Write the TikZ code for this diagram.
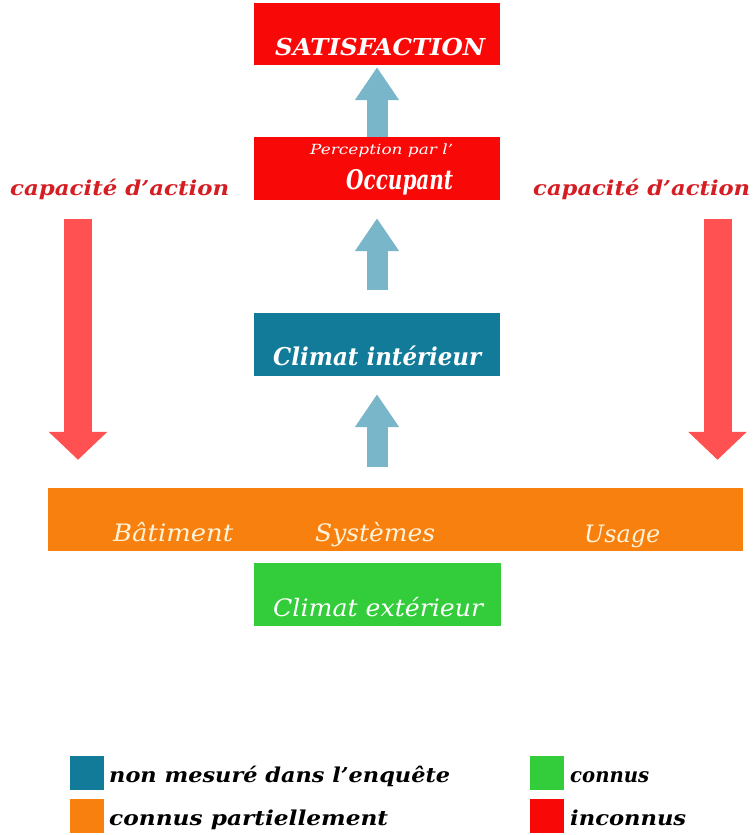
\documentclass[tikz,border=0pt]{standalone}
\usepackage{fontspec}
\setmainfont{DejaVu Serif}
\usetikzlibrary{arrows.meta}
\definecolor{boxred}{HTML}{F90808}
\definecolor{boxteal}{HTML}{117B99}
\definecolor{boxorange}{HTML}{F8800F}
\definecolor{boxgreen}{HTML}{33CC3A}
\definecolor{arrblue}{HTML}{7AB6C9}
\definecolor{arrred}{HTML}{FF5151}
\definecolor{labred}{HTML}{D41E24}
\definecolor{cream}{HTML}{FFF4DA}
\newcommand\fittxt[3]{\fontsize{#1}{#1}\selectfont\resizebox{#2}{\height}{#3}}
\tikzset{
  box/.style={rectangle, inner sep=0pt, minimum width=246pt, minimum height=63pt},
  txt/.style={inner sep=0pt, anchor=base west},
  uparrow/.style={draw=arrblue, line width=21pt, -{Triangle[width=42pt,length=33pt]}},
  downarrow/.style={draw=arrred, line width=28pt, -{Triangle[width=57pt,length=28pt]}},
  legsq/.style={rectangle, inner sep=0pt, minimum width=34pt, minimum height=34pt},
}
\begin{document}
\begin{tikzpicture}[x=1pt,y=-1pt]
\useasboundingbox (0,0) rectangle (754,835);
% boxes
\node[box, fill=boxred, minimum height=62pt] (sat) at (377,34) {};
\node[box, fill=boxred] (occ) at (377,168.5) {};
\node[box, fill=boxteal] (int) at (377,344.5) {};
\node[rectangle, inner sep=0pt, minimum width=695pt, minimum height=63pt, fill=boxorange] (band) at (395.5,519.5) {};
\node[box, fill=boxgreen, minimum width=247pt] (ext) at (377.5,594.5) {};
% blue arrows
\draw[uparrow, shorten >=2pt] (occ.north) -- (sat.south);
\draw[uparrow, shorten <=23pt, shorten >=18pt] (int.north) -- (occ.south);
\draw[uparrow, shorten <=21pt, shorten >=18pt] (band.north -| int.south) -- (int.south);
% redraw occupant box over arrow shaft
\node[box, fill=boxred] (occ2) at (377,168.5) {};
% texts in boxes
\node[txt, text=white] (tsat) at (275,55) {\fittxt{23.3}{210pt}{\bfseries\itshape SATISFACTION}};
\node[txt, text=white] (tper) at (310,154) {\fittxt{14}{143pt}{\itshape Perception par l’}};
\node[txt, text=white] (tocc) at (346,189) {\fittxt{27}{107pt}{\bfseries\itshape Occupant}};
\node[txt, text=white] (tint) at (273,365) {\fittxt{24.5}{208pt}{\bfseries\itshape Climat intérieur}};
\node[txt, text=cream] (tbat) at (113,541) {\fittxt{24}{120pt}{\itshape Bâtiment}};
\node[txt, text=cream] (tsys) at (315,541) {\fittxt{24}{120pt}{\itshape Systèmes}};
\node[txt, text=cream] (tusa) at (584,542) {\fittxt{24}{76pt}{\itshape Usage}};
\node[txt, text=white] (text) at (273,616) {\fittxt{24}{210pt}{\itshape Climat extérieur}};
% capacite d'action
\node[txt, text=labred] (capL) at (10,195) {\fittxt{20.5}{219pt}{\bfseries\itshape capacité d’action}};
\node[txt, text=labred] (capR) at (533,195) {\fittxt{20.5}{217pt}{\bfseries\itshape capacité d’action}};
\coordinate (lTop) at (78,219);
\coordinate (rTop) at (717.5,219);
\draw[downarrow, shorten >=28pt] (lTop) -- (lTop |- band.north);
\draw[downarrow, shorten >=28pt] (rTop) -- (rTop |- band.north);
% legend
\node[legsq, fill=boxteal] (lg1) at (87,773) {};
\node[legsq, fill=boxorange] (lg2) at (87,816) {};
\node[legsq, fill=boxgreen] (lg3) at (547,773) {};
\node[legsq, fill=boxred] (lg4) at (547,816) {};
\node[txt] (lt1) at (109,782) {\fittxt{20.5}{341pt}{\bfseries\itshape non mesuré dans l’enquête}};
\node[txt] (lt2) at (109,825) {\fittxt{20.5}{279pt}{\bfseries\itshape connus partiellement}};
\node[txt] (lt3) at (570,782) {\fittxt{20.5}{79pt}{\bfseries\itshape connus}};
\node[txt] (lt4) at (570,825) {\fittxt{20.5}{116pt}{\bfseries\itshape inconnus}};
\end{tikzpicture}
\end{document}
